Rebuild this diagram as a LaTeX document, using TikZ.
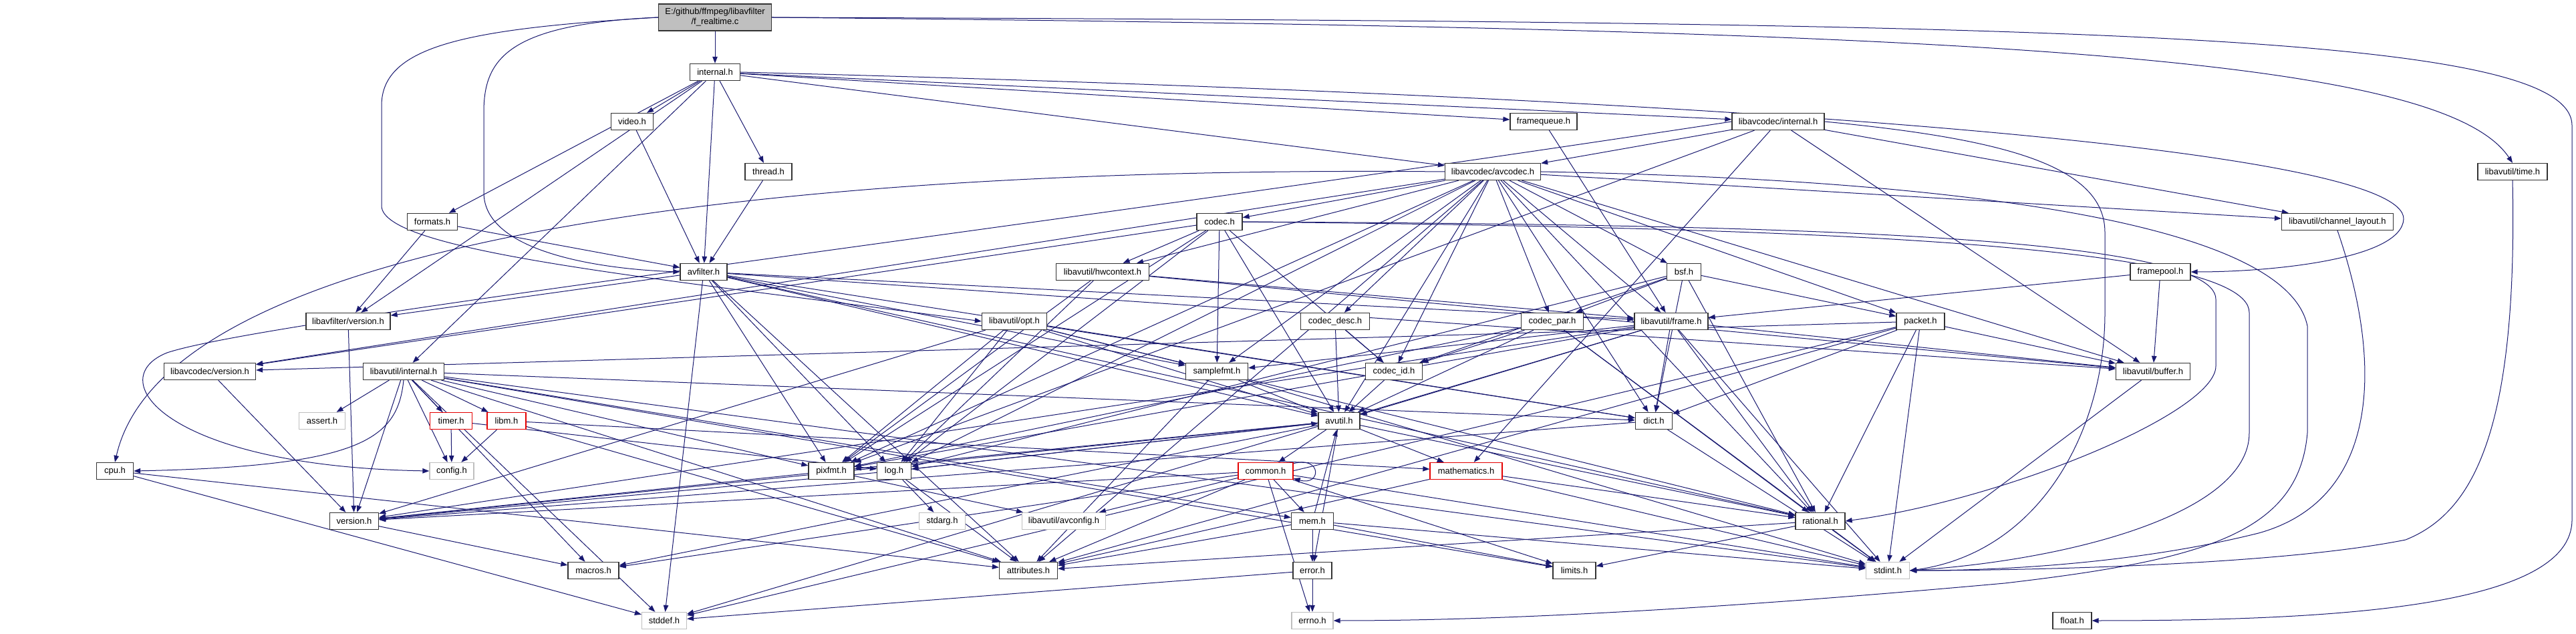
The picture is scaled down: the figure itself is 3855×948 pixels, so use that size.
\documentclass[tikz,border=0pt]{standalone}
\usepackage{fontspec}
\setmainfont{Liberation Sans}
\usetikzlibrary{arrows.meta}
\definecolor{eblue}{HTML}{191970}
\pgfdeclarelayer{bg}
\pgfsetlayers{bg,main}
\begin{document}
\begin{tikzpicture}[x=1pt,y=1pt,
 nd/.style={draw=black!80,line width=1.3pt,fill=white,minimum height=25pt,inner sep=0pt,font=\fontsize{13}{15}\selectfont},
 gnd/.style={nd,draw=black!25},
 rnd/.style={nd,draw=red!90!black},
 e/.style={draw=eblue,line width=1pt,-{Triangle[length=10pt,width=7.5pt]}}]
\useasboundingbox (0,0) rectangle (3855,948);
\node[nd,minimum width=169pt,minimum height=40pt,fill=black!25,align=center] (root) at (1070,922) {E:/github/ffmpeg/libavfilter\\/f\_realtime.c};
\node[nd,minimum width=75pt] (internalh) at (1070,840) {internal.h};
\node[nd,minimum width=63pt] (videoh) at (946,766) {video.h};
\node[nd,minimum width=100pt] (framequeue) at (2310,766) {framequeue.h};
\node[nd,minimum width=138pt] (lavcinternal) at (2661,766) {libavcodec/internal.h};
\node[nd,minimum width=70pt] (threadh) at (1150,691) {thread.h};
\node[nd,minimum width=143pt] (avcodec) at (2234,691) {libavcodec/avcodec.h};
\node[nd,minimum width=104pt] (timeh) at (3760,691) {libavutil/time.h};
\node[nd,minimum width=75pt] (formats) at (647,616) {formats.h};
\node[nd,minimum width=68pt] (codech) at (1825,616) {codec.h};
\node[nd,minimum width=167pt] (chlayout) at (3498,616) {libavutil/channel\_layout.h};
\node[nd,minimum width=70pt] (avfilter) at (1053,541) {avfilter.h};
\node[nd,minimum width=139pt] (hwcontext) at (1650,541) {libavutil/hwcontext.h};
\node[nd,minimum width=51pt] (bsf) at (2520,541) {bsf.h};
\node[nd,minimum width=90pt] (framepool) at (3233,541) {framepool.h};
\node[nd,minimum width=126pt] (lafversion) at (521,467) {libavfilter/version.h};
\node[nd,minimum width=97pt] (opt) at (1518,467) {libavutil/opt.h};
\node[nd,minimum width=103pt] (codecdesc) at (1998,467) {codec\_desc.h};
\node[nd,minimum width=93pt] (codecpar) at (2323,467) {codec\_par.h};
\node[nd,minimum width=110pt] (frame) at (2501,467) {libavutil/frame.h};
\node[nd,minimum width=72pt] (packet) at (2874,467) {packet.h};
\node[nd,minimum width=137pt] (lacversion) at (314,392) {libavcodec/version.h};
\node[nd,minimum width=121pt] (lauinternal) at (604,392) {libavutil/internal.h};
\node[nd,minimum width=93pt] (samplefmt) at (1821,392) {samplefmt.h};
\node[nd,minimum width=85pt] (codecid) at (2086,392) {codec\_id.h};
\node[nd,minimum width=111pt] (buffer) at (3222,392) {libavutil/buffer.h};
\node[gnd,minimum width=69pt] (assert) at (482,318) {assert.h};
\node[rnd,minimum width=63pt] (timer) at (675,318) {timer.h};
\node[rnd,minimum width=58pt] (libm) at (758,318) {libm.h};
\node[nd,minimum width=62pt] (avutil) at (2004,318) {avutil.h};
\node[nd,minimum width=55pt] (dict) at (2475,318) {dict.h};
\node[nd,minimum width=55pt] (cpu) at (172,243) {cpu.h};
\node[gnd,minimum width=66pt] (config) at (676,243) {config.h};
\node[nd,minimum width=68pt] (pixfmt) at (1244,243) {pixfmt.h};
\node[nd,minimum width=51pt] (log) at (1338,243) {log.h};
\node[rnd,minimum width=82pt] (common) at (1894,243) {common.h};
\node[rnd,minimum width=108pt] (mathematics) at (2194,243) {mathematics.h};
\node[nd,minimum width=73pt] (version) at (530,168) {version.h};
\node[gnd,minimum width=69pt] (stdarg) at (1410,168) {stdarg.h};
\node[gnd,minimum width=125pt] (avconfig) at (1592,168) {libavutil/avconfig.h};
\node[nd,minimum width=63pt] (mem) at (1964,168) {mem.h};
\node[nd,minimum width=74pt] (rational) at (2724,168) {rational.h};
\node[nd,minimum width=76pt] (macros) at (888,94) {macros.h};
\node[nd,minimum width=87pt] (attributes) at (1539,94) {attributes.h};
\node[nd,minimum width=58pt] (error) at (1964,94) {error.h};
\node[nd,minimum width=64pt] (limits) at (2356,94) {limits.h};
\node[gnd,minimum width=65pt] (stdint) at (2825,94) {stdint.h};
\node[gnd,minimum width=67pt] (stddef) at (994,19) {stddef.h};
\node[gnd,minimum width=62pt] (errno) at (1964,19) {errno.h};
\node[nd,minimum width=58pt] (floath) at (3101,19) {float.h};
\begin{pgfonlayer}{bg}
\fill[white] (0,0) rectangle (3855,948);
\foreach \a/\b in {root/internalh,
 internalh/videoh, internalh/threadh, internalh/avfilter, internalh/formats, internalh/lafversion, internalh/lauinternal, internalh/framequeue, internalh/lavcinternal, internalh/avcodec,
 videoh/avfilter, threadh/avfilter, formats/avfilter, formats/lafversion, framequeue/frame,
 lavcinternal/avcodec, lavcinternal/chlayout, lavcinternal/buffer, lavcinternal/mathematics, lavcinternal/pixfmt,
 avcodec/samplefmt, avcodec/attributes, avcodec/avutil, avcodec/buffer, avcodec/chlayout, avcodec/dict, avcodec/frame, avcodec/hwcontext, avcodec/log, avcodec/pixfmt, avcodec/rational, avcodec/bsf, avcodec/codech, avcodec/codecdesc, avcodec/codecpar, avcodec/codecid, avcodec/packet, avcodec/lacversion,
 codech/avutil, codech/hwcontext, codech/log, codech/pixfmt, codech/samplefmt, codech/codecid, codech/lacversion,
 avfilter/stddef, avfilter/attributes, avfilter/avutil, avfilter/buffer, avfilter/dict, avfilter/frame, avfilter/log, avfilter/samplefmt, avfilter/pixfmt, avfilter/rational, avfilter/lafversion,
 hwcontext/buffer, hwcontext/frame, hwcontext/log, hwcontext/pixfmt,
 bsf/dict, bsf/log, bsf/rational, bsf/codecid, bsf/codecpar, bsf/packet,
 framepool/buffer, framepool/frame, lafversion/version,
 opt/rational, opt/avutil, opt/dict, opt/log, opt/pixfmt, opt/samplefmt, opt/version,
 codecdesc/avutil, codecdesc/codecid,
 codecpar/stdint, codecpar/avutil, codecpar/rational, codecpar/pixfmt, codecpar/codecid,
 frame/stddef, frame/stdint, frame/avutil, frame/buffer, frame/dict, frame/rational, frame/samplefmt, frame/pixfmt, frame/version,
 packet/stddef, packet/stdint, packet/attributes, packet/buffer, packet/dict, packet/rational, packet/lacversion,
 lacversion/version,
 lauinternal/limits, lauinternal/stdint, lauinternal/stddef, lauinternal/assert, lauinternal/config, lauinternal/attributes, lauinternal/timer, lauinternal/dict, lauinternal/macros, lauinternal/mem, lauinternal/pixfmt, lauinternal/version, lauinternal/libm,
 samplefmt/avutil, samplefmt/attributes, samplefmt/stdint, codecid/avutil, buffer/stdint,
 timer/config, timer/log, libm/config, libm/attributes, libm/mathematics,
 avutil/common, avutil/error, avutil/rational, avutil/version, avutil/macros, avutil/mathematics, avutil/log, avutil/pixfmt,
 dict/stdint, dict/version, cpu/attributes, cpu/stddef, pixfmt/avconfig, pixfmt/version,
 log/stdarg, log/avutil, log/attributes, log/version,
 common/errno, common/limits, common/stdint, common/attributes, common/macros, common/version, common/avconfig, common/mem,
 mathematics/stdint, mathematics/attributes, mathematics/rational, version/macros,
 mem/limits, mem/stdint, mem/attributes, mem/error, mem/avutil,
 rational/stdint, rational/limits, rational/attributes, error/errno, error/stddef}
 \draw[e] (\a) -- (\b);
\draw[e] (root.west) .. controls (760,912) and (724,860) .. (724,780) -- (724,660) .. controls (724,570) and (900,545) .. (avfilter.west);
\draw[e] (root.west) .. controls (700,905) and (571,880) .. (571,790) -- (571,640) .. controls (571,570) and (1000,530) .. (opt.west);
\draw[e] (root.east) .. controls (2900,905) and (3650,870) .. (timeh.north);
\draw[e] (root.east) .. controls (3100,915) and (3849,900) .. (3849,760) -- (3849,170) .. controls (3849,40) and (3500,19) .. (floath.east);
\draw[e] (internalh.east) .. controls (2700,800) and (3600,720) .. (3597,620) .. controls (3594,560) and (3400,541) .. (framepool.east);
\draw[e] (lavcinternal.west) .. controls (1500,600) and (400,470) .. (250,420) .. controls (150,380) and (250,250) .. (config.west);
\draw[e] (lavcinternal.east) .. controls (3000,740) and (3150,700) .. (3150,600) -- (3150,480) .. controls (3150,300) and (3050,120) .. (stdint.east);
\draw[e] (avcodec.west) .. controls (1200,700) and (250,600) .. (cpu.north);
\draw[e] (avcodec.east) .. controls (2900,680) and (3420,620) .. (3453,460) -- (3453,300) .. controls (3440,150) and (3300,110) .. (3000,75) .. controls (2500,30) and (2200,19) .. (errno.east);
\draw[e] (lauinternal.south) .. controls (595,290) and (540,250) .. (cpu.east);
\draw[e] (timeh.south) .. controls (3768,300) and (3700,180) .. (3600,140) .. controls (3400,100) and (3000,94) .. (stdint.east);
\draw[e] (chlayout.south) .. controls (3568,400) and (3560,200) .. (3380,150) .. controls (3200,105) and (3000,94) .. (stdint.east);
\draw[e] (codech.east) .. controls (2600,612) and (3316,600) .. (3316,500) -- (3316,400) .. controls (3316,330) and (3000,200) .. (rational.east);
\draw[e] (codech.east) .. controls (2600,608) and (3366,590) .. (3366,480) -- (3366,300) .. controls (3366,180) and (3100,110) .. (stdint.east);
\draw[e] (common.15) .. controls (1978,266) and (1978,220) .. (common.-15);
\end{pgfonlayer}
\end{tikzpicture}
\end{document}
